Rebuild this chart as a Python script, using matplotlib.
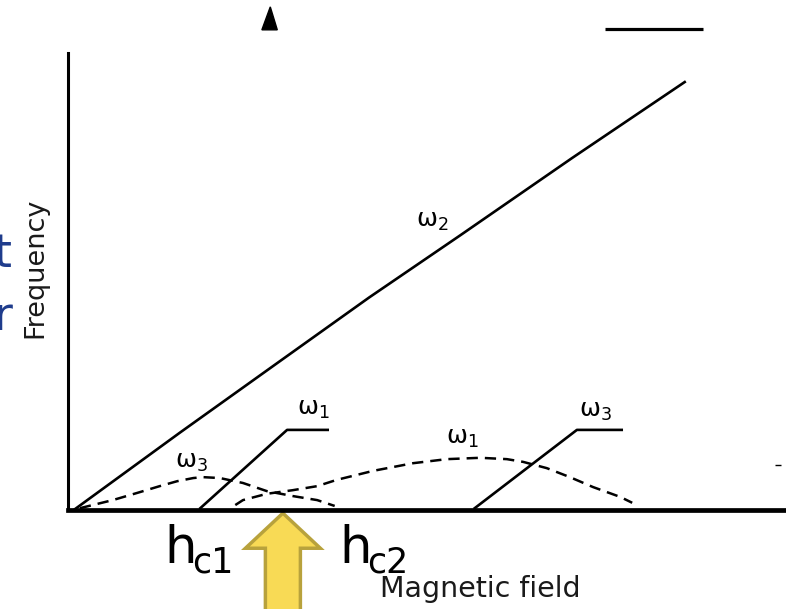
import matplotlib
matplotlib.use("Agg")
import matplotlib.pyplot as plt
from matplotlib.patches import Polygon, FancyArrow

# magnetic field (x) and frequency (y), arbitrary units
w2_h = [0.10, 1.60, 3.03, 4.30, 5.60, 7.20, 8.81]
w2_f = [0.02, 1.72, 3.31, 4.72, 6.10, 7.82, 9.51]

w1_solid_h = [1.89, 3.13, 3.71]
w1_solid_f = [0.04, 1.78, 1.78]

w3_solid_h = [5.81, 7.27, 7.91]
w3_solid_f = [0.04, 1.78, 1.78]

w3_dash_h = [0.17, 0.64, 0.99, 1.31, 1.56, 1.79, 1.93, 2.17, 2.50, 2.84, 3.21, 3.56, 3.81]
w3_dash_f = [0.04, 0.22, 0.38, 0.53, 0.64, 0.71, 0.73, 0.71, 0.60, 0.42, 0.31, 0.22, 0.09]

w1_dash_h = [2.39, 2.50, 2.84, 3.21, 3.56, 3.84, 4.36, 4.93, 5.41, 5.89, 6.27, 6.50,
             6.84, 7.17, 7.50, 7.89, 8.06]
w1_dash_f = [0.11, 0.22, 0.36, 0.44, 0.53, 0.67, 0.87, 1.04, 1.13, 1.16, 1.13, 1.07,
             0.93, 0.73, 0.51, 0.29, 0.16]

h_arrow = 3.07   # field marked by the yellow arrow (between hc1 and hc2)

fig = plt.figure(figsize=(7.86, 6.09), dpi=100)
ax = fig.add_axes([0, 0, 1, 1])
ax.set_xlim(-0.971, 10.257)
ax.set_ylim(-2.2, 11.333)
ax.set_xticks([])
ax.set_yticks([])
for s in ["top", "right"]:
    ax.spines[s].set_visible(False)
ax.spines["left"].set_position(("data", 0))
ax.spines["left"].set_bounds(0, 10.16)
ax.spines["left"].set_linewidth(2.2)
ax.spines["bottom"].set_position(("data", 0))
ax.spines["bottom"].set_bounds(0, 10.26)
ax.spines["bottom"].set_linewidth(3.4)
for s in ["left", "bottom"]:
    ax.spines[s].set_zorder(5)

ax.plot(w2_h, w2_f, color="black", lw=1.9, zorder=3)
ax.plot(w1_solid_h, w1_solid_f, color="black", lw=1.9, zorder=3)
ax.plot(w3_solid_h, w3_solid_f, color="black", lw=1.9, zorder=3)
ax.plot(w3_dash_h, w3_dash_f, color="black", lw=1.8, ls=(0, (4.5, 2.8)), zorder=3)
ax.plot(w1_dash_h, w1_dash_f, color="black", lw=1.8, ls=(0, (4.5, 2.8)), zorder=3)

# mode labels
lab = dict(fontsize=18, color="black", ha="center", va="center")
ax.text(5.2, 6.42, r"$\mathregular{\omega_2}$", **lab)
ax.text(3.51, 2.24, r"$\mathregular{\omega_1}$", **lab)
ax.text(7.54, 2.20, r"$\mathregular{\omega_3}$", **lab)
ax.text(5.64, 1.60, r"$\mathregular{\omega_1}$", **lab)
ax.text(1.77, 1.07, r"$\mathregular{\omega_3}$", **lab)

ax.text(-0.47, 5.38, "Frequency", rotation=90, fontsize=19.5, color="#1a1a1a",
        ha="center", va="center")
ax.text(4.46, -1.93, "Magnetic field", fontsize=20.5, color="#1a1a1a",
        ha="left", va="baseline")

# critical field labels
ax.text(1.37, -1.18, "h", fontsize=37, ha="left", va="baseline")
ax.text(1.77, -1.40, "c1", fontsize=25, ha="left", va="baseline")
ax.text(3.87, -1.18, "h", fontsize=37, ha="left", va="baseline")
ax.text(4.27, -1.40, "c2", fontsize=25, ha="left", va="baseline")

ax.add_patch(FancyArrow(h_arrow, -2.4, 0, 2.33, width=0.5, head_width=1.07,
                        head_length=0.78, length_includes_head=True,
                        fc="#f8da55", ec="#b8a23c", lw=2.5, zorder=2))

# bits of the cropped original scan
ax.add_patch(Polygon([[2.89, 11.18], [2.77, 10.67], [2.99, 10.67]],
                     closed=True, fc="black", ec="black", zorder=3))
ax.hlines(10.69, 7.67, 9.07, color="black", lw=2.3)
ax.hlines(1.0, 10.10, 10.18, color="black", lw=1.0)

# slide text cut off at the left edge
ax.text(-0.81, 5.4, "t", fontsize=33, color="#1f3c8c", ha="right", va="baseline")
ax.text(-0.79, 4.0, "r", fontsize=33, color="#1f3c8c", ha="right", va="baseline")

fig.savefig("out.png", dpi=100)
